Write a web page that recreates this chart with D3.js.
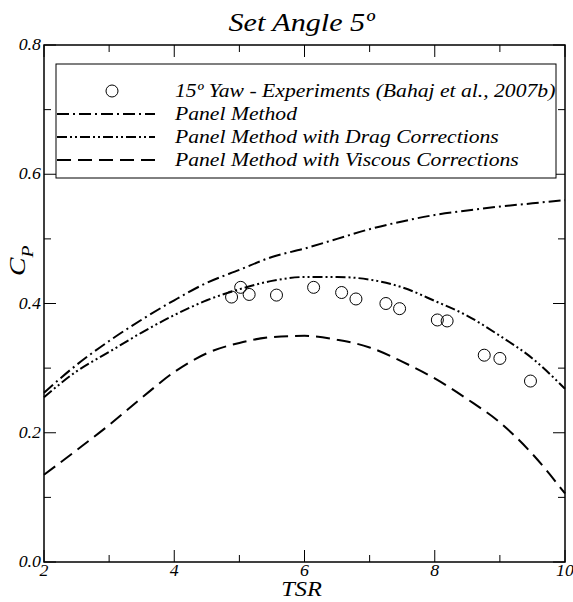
<!DOCTYPE html>
<html><head><meta charset="utf-8">
<script src="https://cdn.jsdelivr.net/npm/d3@7"></script>
<style>
body{margin:0;background:#fff;}
</style></head><body>
<svg id="c" width="573" height="602"></svg>
<script>
const tsr = [2,2.5,3,3.5,4,4.5,5,5.5,6,6.5,7,7.5,8,8.5,9,9.5,10];
const panel = [0.262,0.305,0.342,0.375,0.405,0.432,0.452,0.472,0.485,0.500,0.515,0.527,0.537,0.544,0.550,0.555,0.560];
const drag = [0.255,0.295,0.325,0.355,0.382,0.405,0.422,0.435,0.441,0.441,0.437,0.425,0.404,0.381,0.350,0.315,0.268];
const viscous = [0.135,0.173,0.212,0.254,0.294,0.323,0.339,0.348,0.350,0.344,0.332,0.310,0.284,0.252,0.216,0.167,0.106];
const expX = [4.88,5.02,5.15,5.57,6.14,6.57,6.79,7.25,7.46,8.04,8.19,8.76,9.00,9.47];
const expY = [0.410,0.425,0.414,0.413,0.425,0.417,0.407,0.400,0.392,0.3745,0.373,0.320,0.315,0.280];
const xTicks = [2,4,6,8,10];
const xMinor = [3,5,7,9];
const yTicks = [0,0.2,0.4,0.6,0.8];
const yMinor = [0.1,0.3,0.5,0.7];
const legendLabels = ["15º Yaw - Experiments (Bahaj et al., 2007b)","Panel Method","Panel Method with Drag Corrections","Panel Method with Viscous Corrections"];
const titleText = "Set Angle 5º";

const FONT = "Liberation Serif";
const svg = d3.select("#c");
const L=44,R=565,T=45,B=562;
const x = d3.scaleLinear().domain([2,10]).range([L,R]);
const y = d3.scaleLinear().domain([0,0.8]).range([B,T]);

const dashes = {panel:"12,4,2,4", drag:"10,3,2,3,2,3", viscous:"14,7"};

function label(parent, px, py, str, size, anchor, sx){
  return parent.append("text")
    .attr("transform",`translate(${px},${py}) scale(${sx||1},1)`)
    .attr("font-family",FONT).attr("font-style","italic").attr("fill","#000")
    .attr("font-size",size).attr("text-anchor",anchor||"start").text(str);
}

label(svg,(L+R)/2-3,31,titleText,26,"middle",1.16);

const g = svg.append("g");
function ticks(vals,len){
  vals.forEach(v=>{
    g.append("line").attr("x1",x(v)).attr("x2",x(v)).attr("y1",B).attr("y2",B-len).attr("stroke","#000").attr("stroke-width",1);
    g.append("line").attr("x1",x(v)).attr("x2",x(v)).attr("y1",T).attr("y2",T+len).attr("stroke","#000").attr("stroke-width",1);
  });
}
ticks(xTicks,12); ticks(xMinor,7);
function yt(vals,len){
  vals.forEach(v=>{
    g.append("line").attr("y1",y(v)).attr("y2",y(v)).attr("x1",L).attr("x2",L+len).attr("stroke","#000").attr("stroke-width",1);
    g.append("line").attr("y1",y(v)).attr("y2",y(v)).attr("x1",R).attr("x2",R-len).attr("stroke","#000").attr("stroke-width",1);
  });
}
yt(yTicks,12); yt(yMinor,7);
g.append("rect").attr("x",L).attr("y",T).attr("width",R-L).attr("height",B-T).attr("fill","none").attr("stroke","#000").attr("stroke-width",1.5);

xTicks.forEach(v=>{ label(svg,x(v),B+14,d3.format("d")(v),17,"middle",1.05); });
yTicks.forEach(v=>{ label(svg,L-3,y(v)+5,d3.format(".1f")(v),17,"end",1.05); });
label(svg,(L+R)/2-3,596,"TSR",20,"middle",1.22);

const yl = svg.append("text").attr("transform","translate(25,276) rotate(-90) scale(1.15,1)")
  .attr("font-family",FONT).attr("font-style","italic").attr("fill","#000").attr("font-size",24);
yl.append("tspan").text("C");
yl.append("tspan").attr("dy",8).attr("font-size",17).text("P");

const line = d3.line().x(d=>x(d[0])).y(d=>y(d[1])).curve(d3.curveMonotoneX);
function drawSeries(vals,dash){
  svg.append("path").datum(tsr.map((t,i)=>[t,vals[i]])).attr("d",line).attr("fill","none").attr("stroke","#000").attr("stroke-width",2).attr("stroke-dasharray",dash);
}
drawSeries(panel,dashes.panel);
drawSeries(drag,dashes.drag);
drawSeries(viscous,dashes.viscous);

svg.selectAll("circle.exp").data(expX.map((v,i)=>[v,expY[i]])).join("circle").attr("class","exp")
  .attr("cx",d=>x(d[0])).attr("cy",d=>y(d[1])).attr("r",6).attr("fill","none").attr("stroke","#000").attr("stroke-width",1);

const lg = svg.append("g");
lg.append("rect").attr("x",56).attr("y",64).attr("width",500).attr("height",114).attr("fill","#fff").attr("stroke","#000").attr("stroke-width",1);
const rows=[91,114,137,160];
lg.append("circle").attr("cx",112).attr("cy",rows[0]).attr("r",6).attr("fill","none").attr("stroke","#000");
[dashes.panel,dashes.drag,dashes.viscous].forEach((d,i)=>{
  lg.append("line").attr("x1",57).attr("x2",155).attr("y1",rows[i+1]).attr("y2",rows[i+1]).attr("stroke","#000").attr("stroke-width",2).attr("stroke-dasharray",d);
});
legendLabels.forEach((t,i)=>{ label(lg,175,rows[i]+6,t,19.5,"start",1.11); });
</script></body></html>
